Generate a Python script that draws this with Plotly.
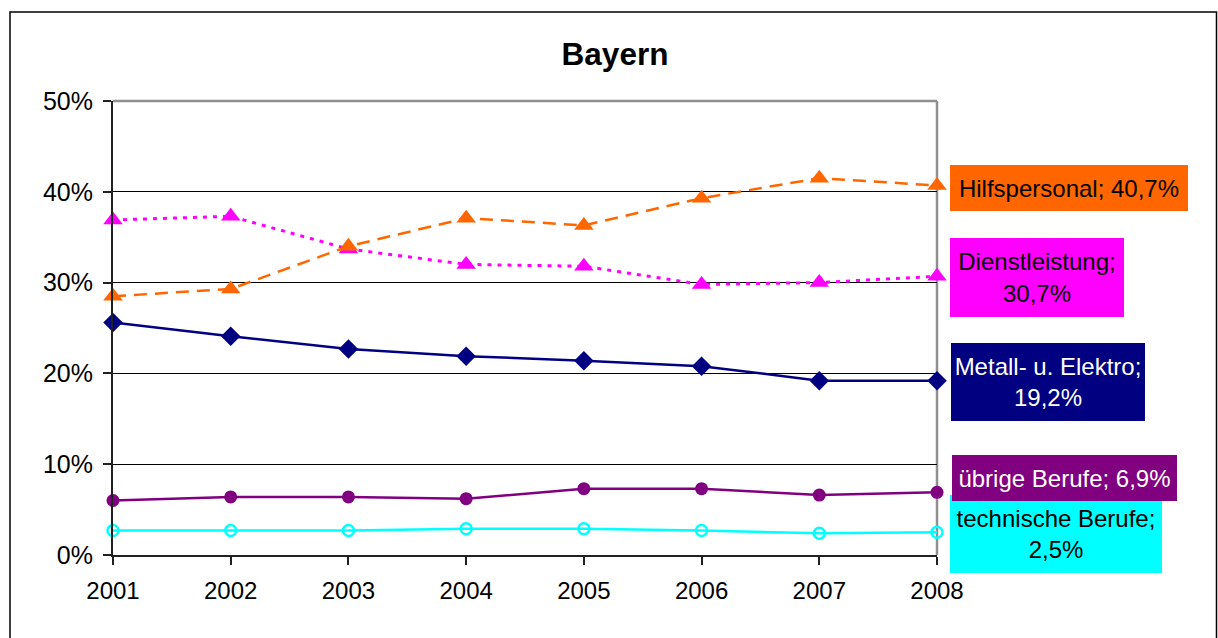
import plotly.graph_objects as go

years = [2001, 2002, 2003, 2004, 2005, 2006, 2007, 2008]
year_labels = [str(y) for y in years]

hilfspersonal = [28.5, 29.3, 34.0, 37.1, 36.3, 39.3, 41.5, 40.7]
dienstleistung = [36.9, 37.3, 33.7, 32.0, 31.8, 29.8, 30.0, 30.7]
metall_elektro = [25.6, 24.1, 22.7, 21.9, 21.4, 20.8, 19.2, 19.2]
uebrige = [6.0, 6.4, 6.4, 6.2, 7.3, 7.3, 6.6, 6.9]
technische = [2.7, 2.7, 2.7, 2.9, 2.9, 2.7, 2.4, 2.5]

y_ticks = [0, 10, 20, 30, 40, 50]
y_tick_labels = ["0%", "10%", "20%", "30%", "40%", "50%"]

FONT = "Liberation Sans, Arial, sans-serif"

fig = go.Figure()

fig.add_trace(go.Scatter(x=years, y=technische, mode="lines+markers", name="technische Berufe",
                         line=dict(color="#00FFFF", width=2.5), cliponaxis=False,
                         marker=dict(symbol="circle-open", size=11, color="#00FFFF", line=dict(width=2.5))))
fig.add_trace(go.Scatter(x=years, y=uebrige, mode="lines+markers", name="übrige Berufe",
                         line=dict(color="#800080", width=2.5), cliponaxis=False,
                         marker=dict(symbol="circle", size=13, color="#800080")))
fig.add_trace(go.Scatter(x=years, y=metall_elektro, mode="lines+markers", name="Metall- u. Elektro",
                         line=dict(color="#000080", width=2.5), cliponaxis=False,
                         marker=dict(symbol="diamond", size=15, color="#000080")))
fig.add_trace(go.Scatter(x=years, y=dienstleistung, mode="lines+markers", name="Dienstleistung",
                         line=dict(color="#FF00FF", width=3, dash="4px,6px"), cliponaxis=False,
                         marker=dict(symbol="triangle-up", size=17, color="#FF00FF")))
fig.add_trace(go.Scatter(x=years, y=hilfspersonal, mode="lines+markers", name="Hilfspersonal",
                         line=dict(color="#FF6600", width=2.5, dash="13px,8px"), cliponaxis=False,
                         marker=dict(symbol="triangle-up", size=17, color="#FF6600")))

W, H = 1218, 638
L, R, T, B = 113, 281, 101, 83
pw, ph = W - L - R, H - T - B

def px_x(px):
    return (px - L) / pw

def px_y(py):
    return (H - B - py) / ph

fig.update_layout(
    width=W, height=H,
    margin=dict(l=L, r=R, t=T, b=B),
    paper_bgcolor="white", plot_bgcolor="white",
    showlegend=False,
    font=dict(family=FONT, color="black", size=23),
    title=dict(text="<b>Bayern</b>", x=px_x(615), xref="paper", xanchor="center",
               y=1 - 54 / H, yanchor="middle", font=dict(size=31.5, family=FONT, color="black")),
    xaxis=dict(range=[2001, 2008], tickmode="array", tickvals=years, ticktext=year_labels,
               showgrid=False, zeroline=False, showline=True, linecolor="#202020", linewidth=2,
               ticks="outside", ticklen=8, tickcolor="#202020", tickwidth=1.5,
               ticklabelstandoff=5, tickfont=dict(size=24, family=FONT)),
    yaxis=dict(range=[0, 50], tickmode="array", tickvals=y_ticks, ticktext=y_tick_labels,
               showgrid=True, gridcolor="black", gridwidth=1.2, zeroline=False, showline=True,
               linecolor="#202020", linewidth=2, ticks="outside", ticklen=8,
               tickcolor="#202020", tickwidth=1.5, ticklabelstandoff=5,
               tickfont=dict(size=25, family=FONT)),
)

# plot area border (gray, top and right)
fig.add_shape(type="line", xref="paper", yref="paper", x0=0, x1=1, y0=1, y1=1,
              line=dict(color="#909090", width=2.5), layer="between")
fig.add_shape(type="line", xref="paper", yref="paper", x0=1, x1=1, y0=0, y1=1,
              line=dict(color="#909090", width=2.5), layer="between")

# outer chart frame
fig.add_shape(type="rect", xref="paper", yref="paper",
              x0=px_x(10), x1=px_x(1216.5), y0=px_y(645), y1=px_y(12),
              line=dict(color="black", width=1.5), layer="below")

labels = [
    ("technische Berufe;<br>2,5%", 1056, 534, 212, 78, "#00FFFF", "black"),
    ("übrige Berufe; 6,9%", 1064.5, 478, 225, 46, "#800080", "white"),
    ("Metall- u. Elektro;<br>19,2%", 1048, 382, 194, 78, "#000080", "white"),
    ("Dienstleistung;<br>30,7%", 1037, 277.5, 174, 79, "#FF00FF", "black"),
    ("Hilfspersonal; 40,7%", 1069, 188, 238, 46, "#FF6600", "black"),
]
for text, cx, cy, w, h, bg, fc in labels:
    fig.add_annotation(text=text, xref="paper", yref="paper", x=px_x(cx), y=px_y(cy),
                       xanchor="center", yanchor="middle", showarrow=False,
                       width=w, height=h, bgcolor=bg, borderpad=0, borderwidth=0,
                       align="center", valign="middle",
                       font=dict(size=24, color=fc, family=FONT))

fig.write_html("out.html", config={"displayModeBar": False},
               post_script="document.body.style.margin='0px';")
